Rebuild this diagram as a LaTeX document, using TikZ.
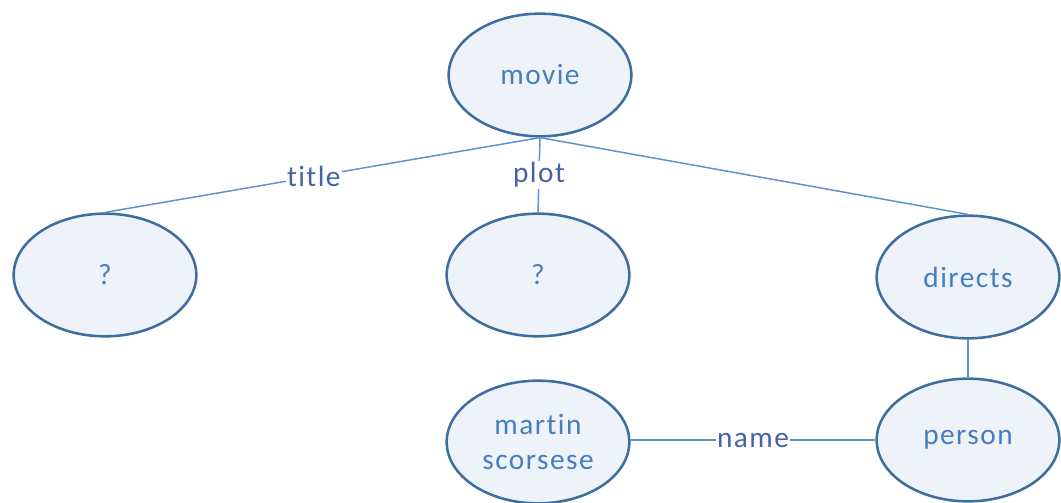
\documentclass[tikz,border=0pt]{standalone}
\usepackage{fontspec}
\setmainfont{Carlito}[LetterSpace=5,Ligatures=NoCommon]
\usetikzlibrary{shapes.geometric}
\definecolor{edgeblue}{RGB}{91,145,205}
\definecolor{rimblue}{RGB}{62,110,160}
\definecolor{fillblue}{RGB}{238,243,250}
\definecolor{textblue}{RGB}{72,125,190}
\definecolor{labblue}{RGB}{70,100,165}
\begin{document}
\begin{tikzpicture}[x=0.75pt,y=-0.75pt,
  ent/.style={ellipse, draw=rimblue, line width=1.9pt, fill=fillblue,
    minimum width=137pt, minimum height=92pt, inner sep=0pt,
    text=textblue, font=\fontsize{22}{26}\selectfont, align=center},
  conn/.style={draw=edgeblue, line width=1.1pt},
  lab/.style={fill=white, inner sep=1pt, text=labblue, font=\fontsize{22}{25}\selectfont}]
\useasboundingbox (0,0) rectangle (1061,503);
\node[ent] (movie) at (540,75) {movie};
\node[ent] (q1) at (105,275) {?};
\node[ent] (q2) at (538,275) {?};
\node[ent] (directs) at (968,277) {directs};
\node[ent] (person) at (968,440) {person};
\node[ent] (martin) at (538,442) {martin\\scorsese};
\draw[conn] (movie.south) -- node[lab, pos=0.52] {title} (q1.north);
\draw[conn] (movie.south) -- node[lab] {plot} (q2.north);
\draw[conn] (movie.south) -- (directs.north);
\draw[conn] (directs.south) -- (person.north);
\draw[conn] (martin.east |- person.west) -- node[lab] {name} (person.west);
\end{tikzpicture}
\end{document}
